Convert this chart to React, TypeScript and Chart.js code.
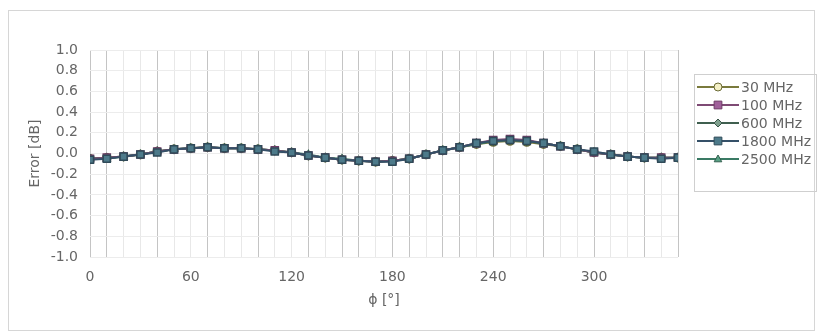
import React, { useEffect, useRef } from 'react';
import { Chart, registerables } from 'chart.js';

Chart.register(...registerables);

// ---- data ----
const angles = [0, 10, 20, 30, 40, 50, 60, 70, 80, 90, 100, 110, 120, 130, 140, 150, 160, 170, 180, 190, 200, 210, 220, 230, 240, 250, 260, 270, 280, 290, 300, 310, 320, 330, 340, 350];
const xTickLabels = [0, 60, 120, 180, 240, 300];
const yTickValues = [-1.0, -0.8, -0.6, -0.4, -0.2, 0.0, 0.2, 0.4, 0.6, 0.8, 1.0];
const seriesNames = ['30 MHz', '100 MHz', '600 MHz', '1800 MHz', '2500 MHz'];

const err30MHz = [-0.05, -0.04, -0.03, -0.01, 0.02, 0.04, 0.05, 0.06, 0.05, 0.05, 0.04, 0.03, 0.01, -0.02, -0.04, -0.06, -0.07, -0.08, -0.07, -0.05, -0.01, 0.03, 0.06, 0.09, 0.11, 0.12, 0.11, 0.09, 0.07, 0.04, 0.01, -0.01, -0.03, -0.04, -0.04, -0.04];
const err100MHz = [-0.05, -0.04, -0.03, -0.01, 0.02, 0.04, 0.05, 0.06, 0.05, 0.05, 0.04, 0.03, 0.01, -0.02, -0.04, -0.06, -0.07, -0.08, -0.07, -0.05, -0.01, 0.03, 0.06, 0.10, 0.13, 0.14, 0.13, 0.10, 0.07, 0.04, 0.01, -0.01, -0.03, -0.04, -0.04, -0.04];
const err600MHz = [-0.05, -0.04, -0.03, -0.01, 0.02, 0.04, 0.05, 0.06, 0.05, 0.05, 0.04, 0.03, 0.01, -0.02, -0.04, -0.06, -0.07, -0.08, -0.07, -0.05, -0.01, 0.03, 0.06, 0.10, 0.12, 0.13, 0.12, 0.10, 0.07, 0.04, 0.01, -0.01, -0.03, -0.04, -0.04, -0.04];
const err1800MHz = [-0.06, -0.05, -0.03, -0.01, 0.01, 0.04, 0.05, 0.06, 0.05, 0.05, 0.04, 0.02, 0.01, -0.02, -0.04, -0.06, -0.07, -0.08, -0.08, -0.05, -0.01, 0.03, 0.06, 0.10, 0.12, 0.13, 0.12, 0.10, 0.07, 0.04, 0.02, -0.01, -0.03, -0.04, -0.05, -0.04];
const err2500MHz = [-0.05, -0.05, -0.03, -0.01, 0.02, 0.04, 0.05, 0.06, 0.05, 0.05, 0.04, 0.03, 0.01, -0.01, -0.04, -0.05, -0.07, -0.08, -0.07, -0.05, -0.01, 0.03, 0.06, 0.09, 0.12, 0.13, 0.12, 0.10, 0.07, 0.04, 0.01, -0.01, -0.03, -0.04, -0.04, -0.04];
const seriesValues = [err30MHz, err100MHz, err600MHz, err1800MHz, err2500MHz];

// vertical grid lines that appear darker in the reference
const xDarkGrid = [0, 10, 40, 70, 100, 130, 150, 160, 180, 190, 210, 220, 240, 270, 300, 330, 350];

// ---- styles ----
const FONT = '"DejaVu Sans", "Liberation Sans", Arial, sans-serif';
const TEXT = '#666666';
const seriesStyles = [
  { line: '#7a7a3c', fill: '#f4f0c6', stroke: '#6a6a35', shape: 'circle', order: 4 },
  { line: '#7e4a74', fill: '#a0609a', stroke: '#6e3c66', shape: 'rect', order: 1 },
  { line: '#3f5f4f', fill: '#7fa08e', stroke: '#3a5548', shape: 'rectRot', order: 3 },
  { line: '#355068', fill: '#4d7a8a', stroke: '#2f4a58', shape: 'rect', order: 0 },
  { line: '#3a7a64', fill: '#58a084', stroke: '#33604f', shape: 'triangle', order: 2 },
];

function drawMarker(ctx: CanvasRenderingContext2D, shape: string, x: number, y: number, r: number) {
  ctx.beginPath();
  if (shape === 'circle') {
    ctx.arc(x, y, r, 0, Math.PI * 2);
  } else if (shape === 'rect') {
    const s = r * Math.SQRT1_2;
    ctx.rect(x - s, y - s, 2 * s, 2 * s);
  } else if (shape === 'rectRot') {
    ctx.moveTo(x, y - r);
    ctx.lineTo(x + r, y);
    ctx.lineTo(x, y + r);
    ctx.lineTo(x - r, y);
    ctx.closePath();
  } else {
    ctx.moveTo(x, y - r);
    ctx.lineTo(x + r * 0.95, y + r * 0.7);
    ctx.lineTo(x - r * 0.95, y + r * 0.7);
    ctx.closePath();
  }
  ctx.fill();
  ctx.stroke();
}

const framePlugin = {
  id: 'frameAndLegend',
  beforeDraw(chart: any) {
    const ctx = chart.ctx as CanvasRenderingContext2D;
    ctx.save();
    ctx.fillStyle = '#ffffff';
    ctx.fillRect(0, 0, chart.width, chart.height);
    ctx.strokeStyle = '#d6d6d6';
    ctx.lineWidth = 1;
    ctx.strokeRect(8.5, 10.5, 806, 320);
    ctx.restore();
  },
  afterDraw(chart: any) {
    const ctx = chart.ctx as CanvasRenderingContext2D;
    ctx.save();
    ctx.strokeStyle = '#cfcfcf';
    ctx.lineWidth = 1;
    ctx.strokeRect(694.5, 74.5, 122, 117);
    ctx.font = `14px ${FONT}`;
    ctx.textBaseline = 'middle';
    ctx.textAlign = 'left';
    chart.data.datasets.forEach((ds: any, i: number) => {
      const st = seriesStyles[i];
      const y = 87 + i * 18;
      ctx.strokeStyle = st.line;
      ctx.lineWidth = 2;
      ctx.beginPath();
      ctx.moveTo(697, y);
      ctx.lineTo(739, y);
      ctx.stroke();
      ctx.fillStyle = st.fill;
      ctx.strokeStyle = st.stroke;
      ctx.lineWidth = 1;
      drawMarker(ctx, st.shape, 718, y, st.shape === 'rect' ? 5.5 : 4);
      ctx.fillStyle = TEXT;
      ctx.fillText(ds.label, 741, y + 1);
    });
    ctx.restore();
  },
};

export default function App() {
  const ref = useRef<HTMLCanvasElement | null>(null);

  useEffect(() => {
    if (!ref.current) return;
    const datasets = seriesNames.map((name, i) => ({
      label: name,
      data: angles.map((a, j) => ({ x: a, y: seriesValues[i][j] })),
      borderColor: seriesStyles[i].line,
      borderWidth: 2,
      backgroundColor: seriesStyles[i].fill,
      pointBackgroundColor: seriesStyles[i].fill,
      pointBorderColor: seriesStyles[i].stroke,
      pointBorderWidth: 1.5,
      pointStyle: seriesStyles[i].shape,
      pointRadius: seriesStyles[i].shape === 'rect' ? 5 : 4,
      order: seriesStyles[i].order,
      showLine: true,
      tension: 0,
    }));

    const chart = new Chart(ref.current, {
      type: 'scatter',
      data: { datasets },
      options: {
        animation: false,
        responsive: false,
        maintainAspectRatio: false,
        layout: { padding: { top: 50, right: 144, bottom: 0, left: 0 } },
        plugins: { legend: { display: false }, tooltip: { enabled: false } },
        scales: {
          x: {
            type: 'linear',
            min: 0,
            max: 350,
            border: { display: false },
            grid: {
              drawTicks: false,
              color: (c: any) => (xDarkGrid.includes(c.tick?.value) ? '#c4c4c4' : '#e8e8e8'),
              lineWidth: 1,
            },
            afterBuildTicks: (scale: any) => {
              scale.ticks = angles.map((v) => ({ value: v }));
            },
            afterFit: (scale: any) => {
              scale.height = 76;
            },
            ticks: {
              autoSkip: false,
              maxRotation: 0,
              padding: 12,
              color: TEXT,
              font: { family: FONT, size: 14 },
              callback: (v: any) => (xTickLabels.includes(Number(v)) ? String(v) : ''),
            },
            title: {
              display: true,
              text: 'ϕ [°]',
              color: TEXT,
              font: { family: FONT, size: 14 },
              padding: { top: 0, bottom: 24 },
            },
          },
          y: {
            type: 'linear',
            min: -1,
            max: 1,
            border: { display: false },
            grid: { drawTicks: false, color: '#ececec', lineWidth: 1 },
            afterBuildTicks: (scale: any) => {
              scale.ticks = yTickValues.map((v) => ({ value: v }));
            },
            afterFit: (scale: any) => {
              scale.width = 90;
            },
            ticks: {
              padding: 12,
              color: TEXT,
              font: { family: FONT, size: 14 },
              callback: (v: any) => Number(v).toFixed(1),
            },
            title: {
              display: true,
              text: 'Error [dB]',
              color: TEXT,
              font: { family: FONT, size: 14 },
              padding: { top: 27, bottom: 0 },
            },
          },
        },
      },
      plugins: [framePlugin],
    } as any);

    return () => chart.destroy();
  }, []);

  return (
    <div style={{ position: 'absolute', left: 0, top: 0, width: 822, height: 333 }}>
      <canvas ref={ref} width={822} height={333} style={{ width: 822, height: 333 }} />
    </div>
  );
}
